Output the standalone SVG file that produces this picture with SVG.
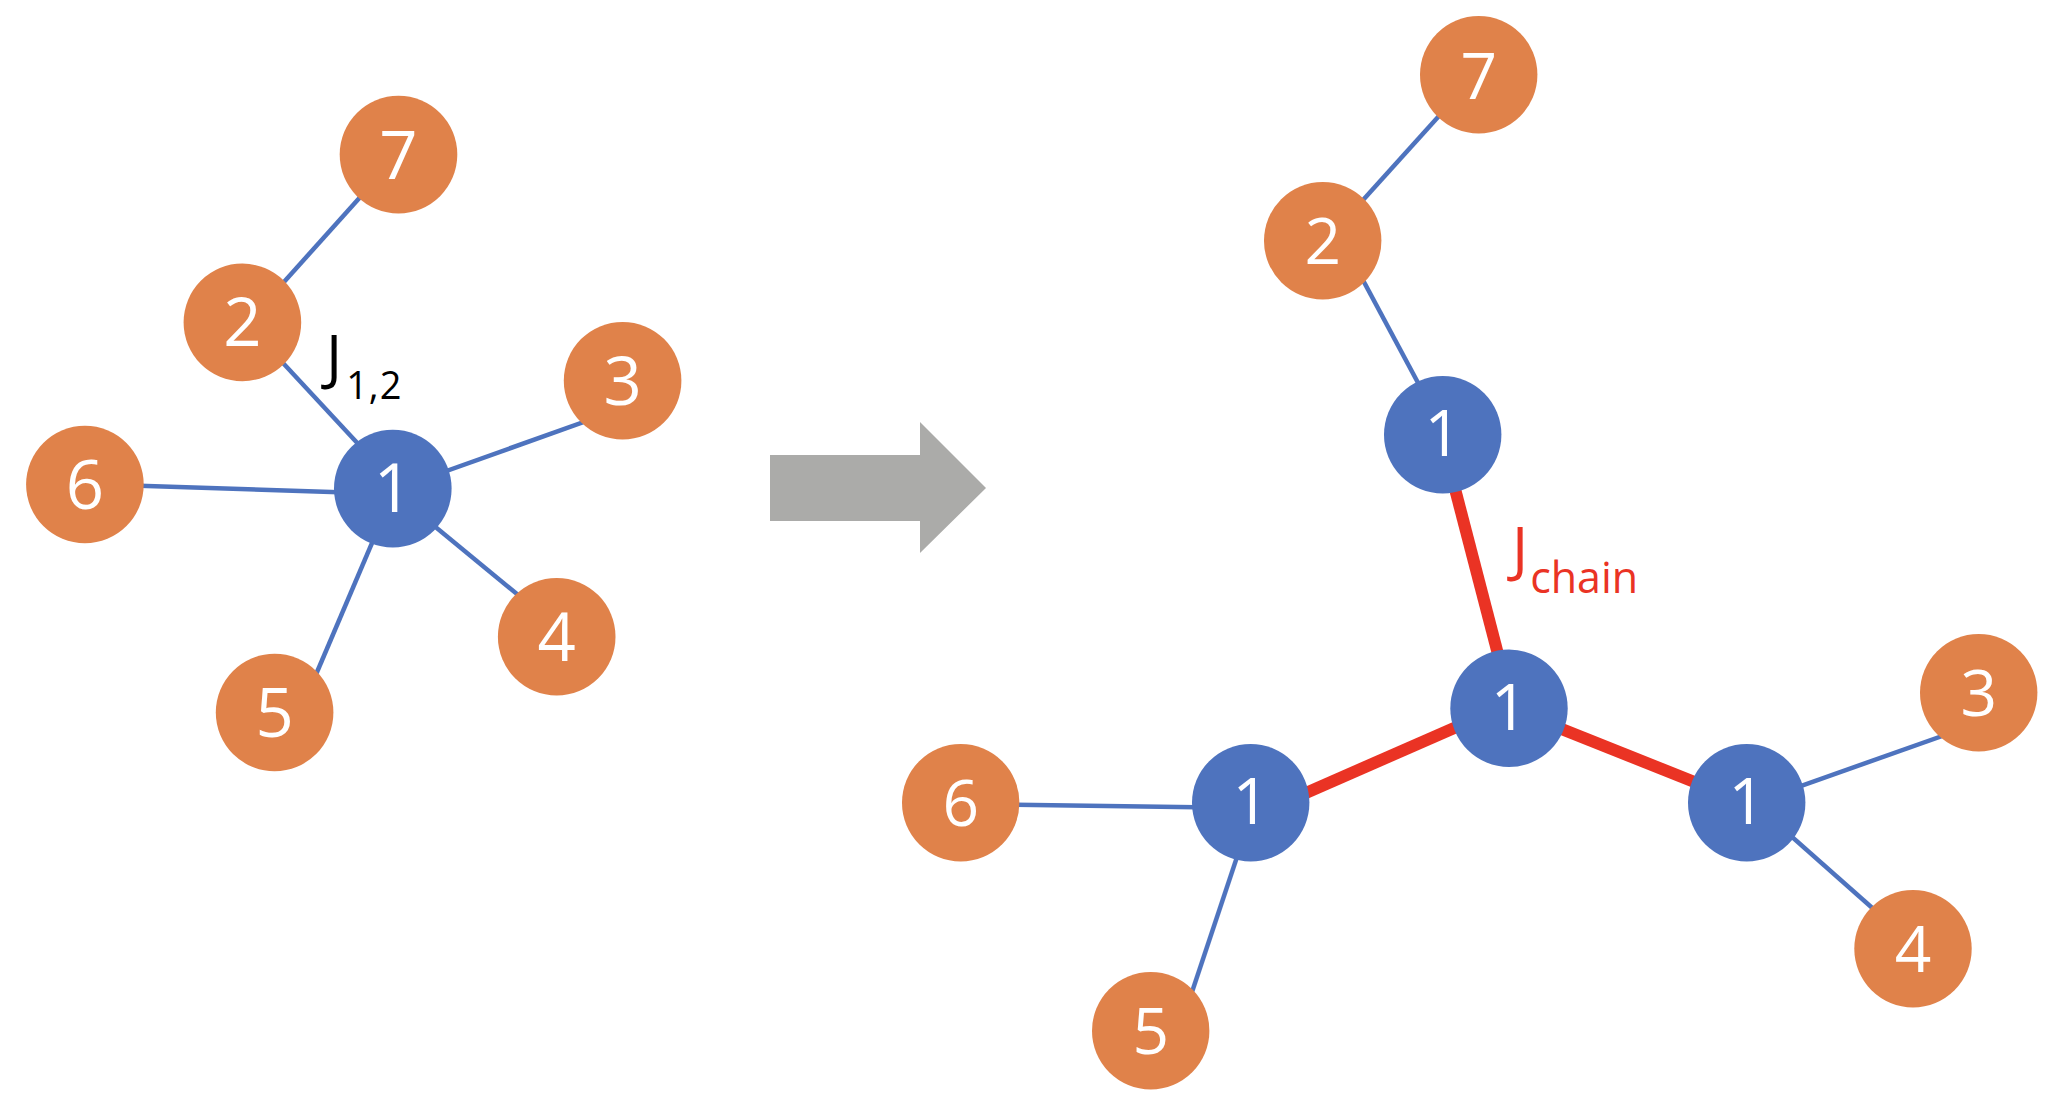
<svg xmlns="http://www.w3.org/2000/svg" width="2058" height="1116" viewBox="0 0 2058 1116">
  <style>
    .orange { fill: #E0824A; }
    .blue { fill: #4E73BE; }
    .digit { fill: #FFFFFF; font-family: "Open Sans", "Noto Sans", sans-serif; font-weight: 500; text-anchor: middle; }
    .big { font-size: 67px; }
    .small { font-size: 64px; }
    .bond { stroke: #4E73BE; stroke-width: 4.5; stroke-linecap: butt; fill: none; }
    .chain { stroke: #EA3324; stroke-width: 12; stroke-linecap: butt; fill: none; }
    .lbl { font-family: "Open Sans", "Noto Sans", sans-serif; }
  </style>

  <!-- Left: star graph around site 1 -->
  <g id="connectors-left">
    <line class="bond" x1="398" y1="155" x2="248" y2="322"/>
    <line class="bond" x1="245" y1="322" x2="400" y2="489"/>
    <line class="bond" x1="393" y1="490" x2="623" y2="408"/>
    <line class="bond" x1="85" y1="484" x2="393" y2="494"/>
    <line class="bond" x1="393" y1="492" x2="557" y2="627"/>
    <line class="bond" x1="395" y1="489" x2="300" y2="712"/>
  </g>

  <g id="L7"><circle class="orange" cx="398.5" cy="154.6" r="58.8"/><text class="digit big" x="398.5" y="178.6">7</text></g>
  <g id="L2"><circle class="orange" cx="242.4" cy="322.4" r="58.8"/><text class="digit big" x="242.4" y="346.4">2</text></g>
  <g id="L3"><circle class="orange" cx="622.6" cy="380.7" r="58.8"/><text class="digit big" x="622.6" y="404.7">3</text></g>
  <g id="L6"><circle class="orange" cx="84.9" cy="484.5" r="58.8"/><text class="digit big" x="84.9" y="508.5">6</text></g>
  <g id="L4"><circle class="orange" cx="556.7" cy="636.7" r="58.8"/><text class="digit big" x="556.7" y="660.7">4</text></g>
  <g id="L5"><circle class="orange" cx="274.6" cy="712.5" r="58.8"/><text class="digit big" x="274.6" y="736.5">5</text></g>
  <g id="L1"><circle class="blue" cx="392.8" cy="488.6" r="58.8"/><text class="digit big" x="392.8" y="512">1</text></g>

  <text id="label-J12" class="lbl" fill="#000000" x="326" y="378" font-size="60">J<tspan font-size="38" dy="21" dx="4" letter-spacing="1">1,2</tspan></text>

  <!-- Transformation arrow -->
  <polygon id="arrow" fill="#ABABA9" points="770,455 920,455 920,422 986,488 920,553 920,521 770,521"/>

  <!-- Right: chain of copies of site 1 -->
  <g id="connectors-right">
    <line class="bond" x1="1476" y1="75" x2="1326" y2="241"/>
    <line class="bond" x1="1342" y1="241" x2="1446" y2="435"/>
    <line class="bond" x1="961" y1="804" x2="1251" y2="808"/>
    <line class="bond" x1="1255" y1="803" x2="1179" y2="1031"/>
    <line class="bond" x1="1747" y1="805" x2="1979" y2="723"/>
    <line class="bond" x1="1747" y1="797" x2="1913" y2="944"/>
    <line class="chain" x1="1441" y1="435" x2="1512" y2="708"/>
    <line class="chain" x1="1251" y1="817" x2="1509" y2="704"/>
    <line class="chain" x1="1509" y1="708" x2="1747" y2="803"/>
  </g>

  <g id="R7"><circle class="orange" cx="1478.7" cy="74.7" r="58.7"/><text class="digit small" x="1478.7" y="99">7</text></g>
  <g id="R2"><circle class="orange" cx="1322.7" cy="240.7" r="58.7"/><text class="digit small" x="1322.7" y="263.5">2</text></g>
  <g id="R1a"><circle class="blue" cx="1442.7" cy="434.7" r="58.7"/><text class="digit small" x="1442.7" y="455.5">1</text></g>
  <g id="R1b"><circle class="blue" cx="1509" cy="708.3" r="58.7"/><text class="digit small" x="1509" y="729.5">1</text></g>
  <g id="R1c"><circle class="blue" cx="1250.7" cy="802.7" r="58.7"/><text class="digit small" x="1250.7" y="824">1</text></g>
  <g id="R1d"><circle class="blue" cx="1746.7" cy="802.7" r="58.7"/><text class="digit small" x="1746.7" y="824">1</text></g>
  <g id="R6"><circle class="orange" cx="960.7" cy="802.7" r="58.7"/><text class="digit small" x="960.7" y="825.5">6</text></g>
  <g id="R5"><circle class="orange" cx="1150.7" cy="1030.7" r="58.7"/><text class="digit small" x="1150.7" y="1053.5">5</text></g>
  <g id="R3"><circle class="orange" cx="1978.7" cy="692.7" r="58.7"/><text class="digit small" x="1978.7" y="715.5">3</text></g>
  <g id="R4"><circle class="orange" cx="1913" cy="948.7" r="58.7"/><text class="digit small" x="1913" y="971.5">4</text></g>

  <text id="label-Jchain" class="lbl" fill="#EA3324" x="1512" y="570" font-size="60">J<tspan font-size="43" dy="23" dx="2">chain</tspan></text>
</svg>
